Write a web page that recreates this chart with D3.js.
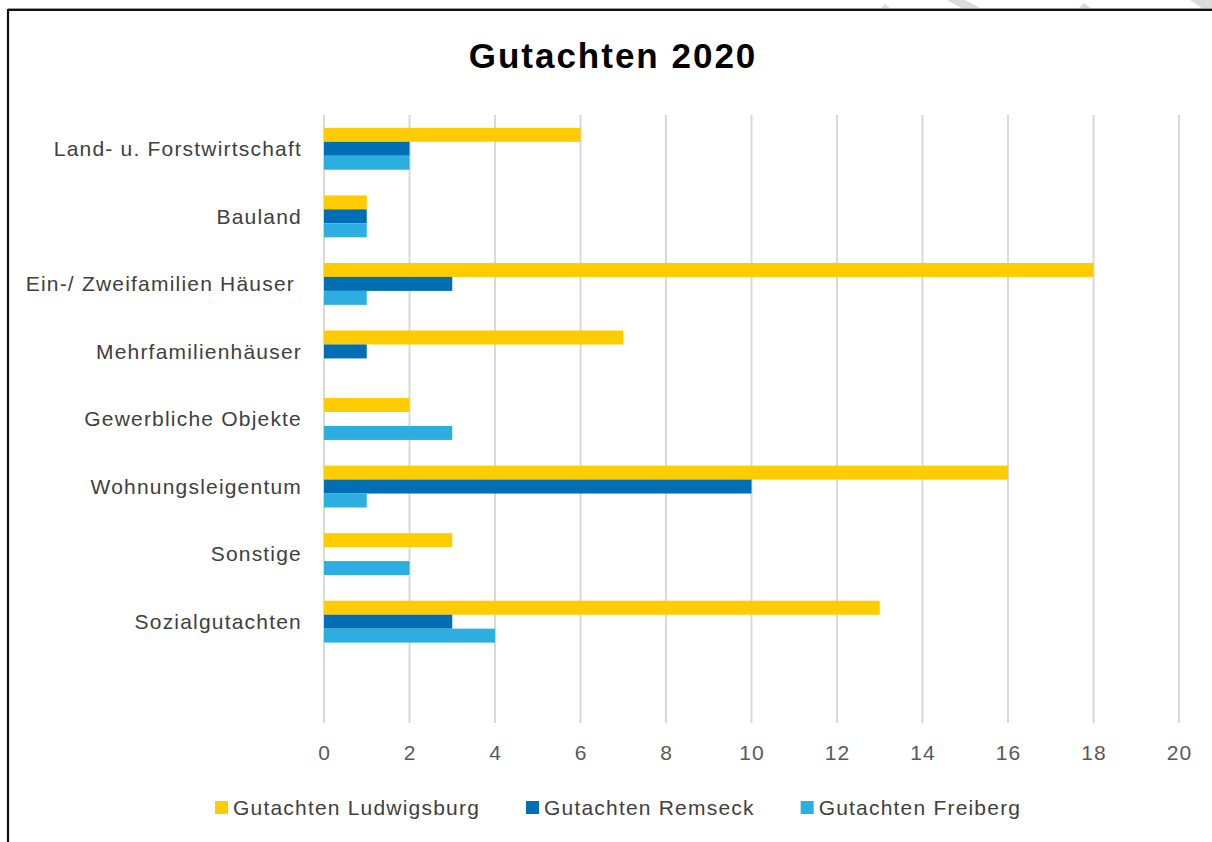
<!DOCTYPE html>
<html>
<head>
<meta charset="utf-8">
<script src="https://cdn.jsdelivr.net/npm/d3@7"></script>
<style>
  html, body { margin: 0; padding: 0; background: #fff; }
  svg { display: block; }
</style>
</head>
<body>
<svg id="chart" width="1212" height="842"></svg>
<script>
const title = "Gutachten 2020";
const categories = [
  "Land- u. Forstwirtschaft",
  "Bauland",
  "Ein-/ Zweifamilien Häuser ",
  "Mehrfamilienhäuser",
  "Gewerbliche Objekte",
  "Wohnungsleigentum",
  "Sonstige",
  "Sozialgutachten"
];
const seriesNames = ["Gutachten Ludwigsburg", "Gutachten Remseck", "Gutachten Freiberg"];
const ludwigsburg = [6, 1, 18, 7, 2, 16, 3, 13];
const remseck     = [2, 1, 3, 1, 0, 10, 0, 3];
const freiberg    = [2, 1, 1, 0, 3, 1, 2, 4];
const xTicks = [0, 2, 4, 6, 8, 10, 12, 14, 16, 18, 20];
const colors = ["#FFCC00", "#006EB4", "#2DAEE0"];

const series = [ludwigsburg, remseck, freiberg];
const svg = d3.select("#chart");

// detect narrow font
const cv = document.createElement("canvas").getContext("2d");
cv.font = '40px monospace'; const wMono = cv.measureText("Gutachten Wohnungs").width;
cv.font = '40px "Liberation Sans Narrow", monospace'; const wNar = cv.measureText("Gutachten Wohnungs").width;
const hasNarrow = Math.abs(wMono - wNar) > 1;
const F = hasNarrow
  ? { fam: '"Liberation Sans Narrow", "Liberation Sans", sans-serif', size: 23, ls: 2.0, tsize: 37, tls: 3.2 }
  : { fam: '"Liberation Sans", Arial, sans-serif', size: 21, ls: 1.2, tsize: 35, tls: 2 };

// decorative stripes above frame
const stripes = [
  [[880,9],[885,4],[891,9]],
  [[947,0],[965,0],[982,9],[963,9]],
  [[1078,9],[1084,3],[1092,9]],
  [[1190,0],[1212,0],[1212,9],[1203,9]]
];
svg.selectAll("polygon.stripe").data(stripes).join("polygon")
  .attr("points", d => d.map(p => p.join(",")).join(" "))
  .attr("fill", "#DCDCDC");

// frame
svg.append("line").attr("x1", 8).attr("x2", 1212).attr("y1", 8.5).attr("y2", 8.5)
  .attr("stroke", "#9a9a9a").attr("stroke-width", 1);
svg.append("path").attr("d", "M8,842 V10 H1212")
  .attr("fill", "none").attr("stroke", "#111").attr("stroke-width", 2.2);

const x = d3.scaleLinear().domain([0, 20]).range([324, 1179]);
const y = d3.scaleBand().domain([...categories, " "]).range([115, 723])
  .paddingInner(0.38).paddingOuter(0.19);
const inner = d3.scaleBand().domain(d3.range(series.length)).range([0, y.bandwidth()]);

// gridlines
svg.append("g").selectAll("line").data(xTicks).join("line")
  .attr("x1", d => x(d)).attr("x2", d => x(d))
  .attr("y1", 115).attr("y2", 723)
  .attr("stroke", "#D9D9D9").attr("stroke-width", 2);

// bars
series.forEach((vals, si) => {
  svg.append("g").selectAll("rect").data(vals.map((v, i) => ({v, c: categories[i]})))
    .join("rect")
    .filter(d => d.v > 0)
    .attr("x", x(0))
    .attr("y", d => y(d.c) + inner(si))
    .attr("width", d => x(d.v) - x(0))
    .attr("height", inner.bandwidth())
    .attr("fill", colors[si]);
});

// x tick labels
const xAxis = d3.axisBottom(x).tickValues(xTicks).tickSize(0).tickPadding(0);
const gx = svg.append("g").attr("transform", "translate(0,745)").call(xAxis);
gx.select(".domain").remove();
gx.selectAll("text")
  .attr("dy", "0.71em")
  .style("font-size", F.size + "px").style("letter-spacing", (F.ls * 0.8) + "px")
  .style("font-family", F.fam)
  .attr("fill", "#595959");

// category labels
const yAxis = d3.axisLeft(y).tickValues(categories).tickSize(0).tickPadding(0);
const gy = svg.append("g").attr("transform", "translate(302,0)").call(yAxis);
gy.select(".domain").remove();
gy.selectAll("text")
  .attr("dy", "0.35em")
  .style("white-space", "pre")
  .style("font-size", F.size + "px").style("letter-spacing", F.ls + "px")
  .style("font-family", F.fam)
  .attr("fill", "#404040");

// title
svg.append("text").attr("x", 613).attr("y", 68).attr("text-anchor", "middle")
  .style("font-family", F.fam)
  .style("font-size", F.tsize + "px").style("font-weight", "bold").style("letter-spacing", F.tls + "px")
  .attr("fill", "#000").text(title);

// legend
const lg = svg.append("g");
let lx = 215;
seriesNames.forEach((name, i) => {
  const g = lg.append("g").attr("transform", `translate(${lx},0)`);
  g.append("rect").attr("x", 0).attr("y", 801).attr("width", 13).attr("height", 13).attr("fill", colors[i]);
  const t = g.append("text").attr("x", 18).attr("y", 815)
    .style("font-family", F.fam)
    .style("font-size", F.size + "px").style("letter-spacing", F.ls + "px")
    .attr("fill", "#404040").text(name);
  lx += 18 + t.node().getComputedTextLength() + 46;
});
</script>
</body>
</html>
